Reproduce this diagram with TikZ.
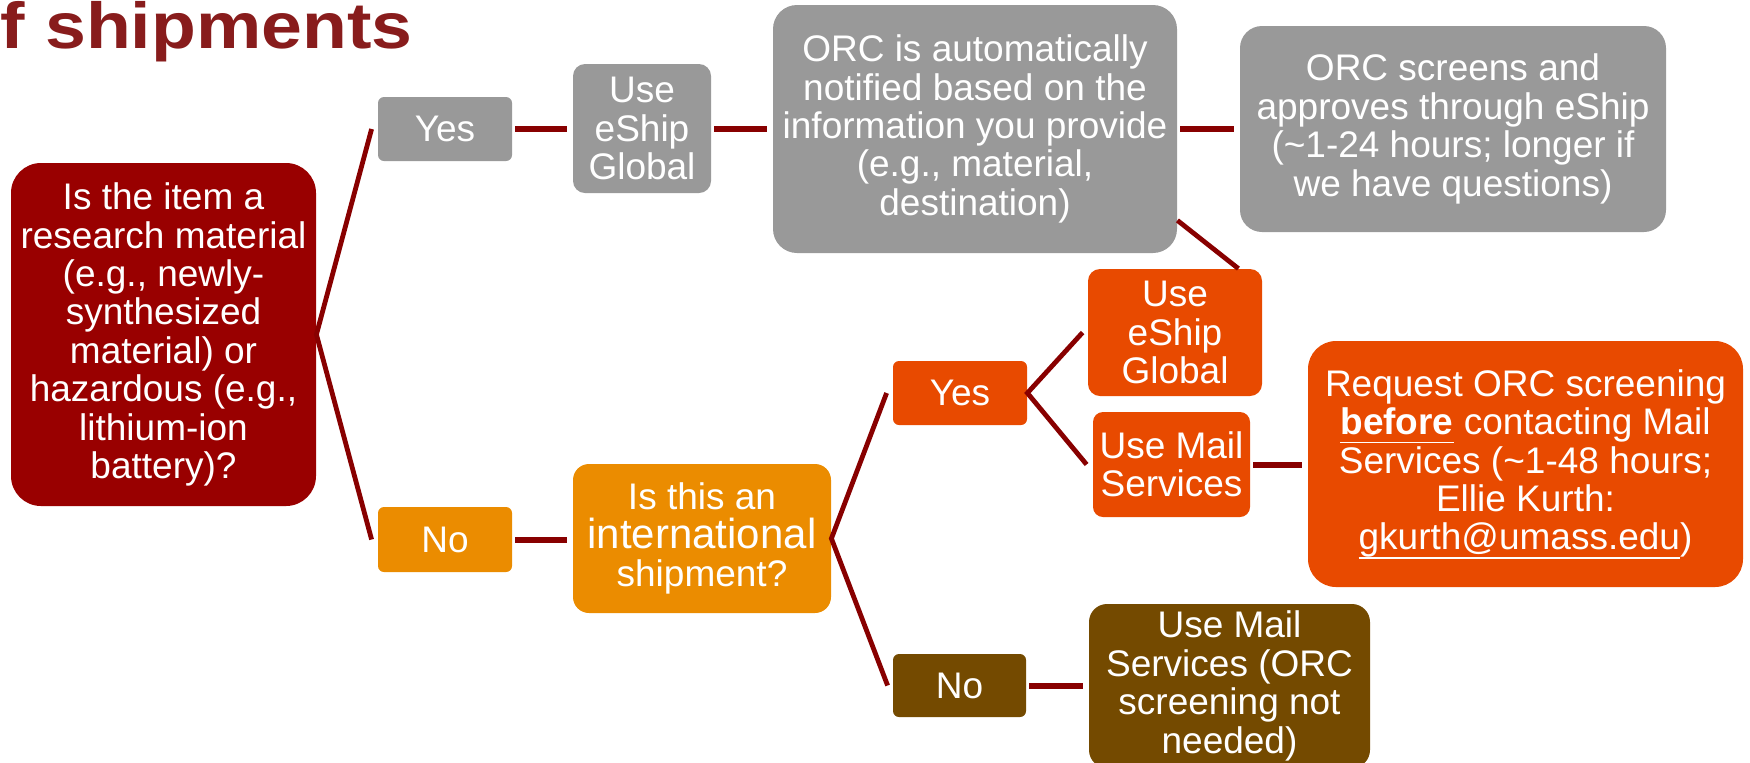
\documentclass[tikz,border=0pt]{standalone}
\usepackage{fontspec}
\setmainfont{Liberation Sans}
\usepackage{xcolor}
\usepackage{tikz}
\usetikzlibrary{calc}

\definecolor{umred}{HTML}{990000}
\definecolor{umgray}{HTML}{999999}
\definecolor{umamber}{HTML}{EB8C00}
\definecolor{umorange}{HTML}{E84A00}
\definecolor{umbrown}{HTML}{744A00}
\definecolor{umline}{HTML}{880000}
\definecolor{umtitle}{HTML}{881C1C}

\newsavebox{\ulsave}
\newcommand{\ulbox}[1]{\sbox{\ulsave}{#1}\rlap{\rule[-4.4pt]{\wd\ulsave}{0.9pt}}\usebox{\ulsave}}

\tikzset{
	box/.style={rounded corners=#1, text=white, align=center, inner sep=0pt, font=\fontsize{18.5pt}{19.2pt}\selectfont},
	link/.style={draw=umline, line width=3pt, shorten <=1.5pt, shorten >=3pt},
	fork/.style={draw=umline, line width=2.4pt, line join=miter},
}

\begin{document}
\begin{tikzpicture}[x=0.5pt, y=-0.5pt]
						\useasboundingbox (0, 0) rectangle (1750, 762);
						\clip (0, 0) rectangle (1750, 762);

						\node[anchor=base west, inner sep=0pt, text=umtitle, font={\bfseries\fontsize{32.5pt}{34pt}\selectfont}] (title) at (0, 48) {\scalebox{1.13}[1]{f shipments}};

						\node[box=15pt, fill=umred, minimum width=152.5pt, minimum height=171.5pt] (item) at (163.5, 334.5) {Is the item a\\research material\\(e.g., newly-\\synthesized\\material) or\\hazardous (e.g.,\\lithium-ion\\battery)?};

						\node[box=3pt, fill=umgray, minimum width=67pt, minimum height=32pt] (yesA) at (445, 129) {Yes};
						\node[box=6pt, fill=umgray, minimum width=69pt, minimum height=64.5pt] (useA) at (642, 128.5) {Use\\eShip\\Global};
						\node[box=12pt, fill=umgray, minimum width=202pt, minimum height=124pt] (orcA) at (975, 129) {ORC is automatically\\notified based on the\\information you provide\\(e.g., material,\\destination)};
						\node[box=11pt, fill=umgray, minimum width=213pt, minimum height=103pt] (orcB) at (1453, 129) {ORC screens and\\approves through eShip\\(\textasciitilde1-24 hours; longer if\\we have questions)};

						\node[box=3pt, fill=umamber, minimum width=67pt, minimum height=32.5pt] (noA) at (445, 539.5) {No};
						\node[box=8pt, fill=umamber, minimum width=129pt, minimum height=74.5pt] (intl) at (702, 538.5) {Is this an\\{\fontsize{21pt}{22pt}\selectfont international}\\shipment?};

						\node[box=3pt, fill=umorange, minimum width=67pt, minimum height=32pt] (yesB) at (960, 393) {Yes};
						\node[box=6pt, fill=umorange, minimum width=87pt, minimum height=63.5pt] (useB) at (1175, 332.5) {Use\\eShip\\Global};
						\node[box=5pt, fill=umorange, minimum width=78.5pt, minimum height=52.5pt] (mailB) at (1171.5, 464.5) {Use Mail\\Services};
						\node[box=14pt, fill=umorange, minimum width=217.5pt, minimum height=123pt] (request) at (1525.5, 464) {Request ORC screening\\\ulbox{\textbf{before}} contacting Mail\\Services (\textasciitilde1-48 hours;\\Ellie Kurth:\\\ulbox{gkurth@umass.edu})};

						\node[box=3pt, fill=umbrown, minimum width=66.5pt, minimum height=31.5pt] (noB) at (959.5, 685.5) {No};
						\node[box=9pt, fill=umbrown, minimum width=140.5pt, minimum height=82pt] (mailC) at (1229.5, 686) {Use Mail\\Services (ORC\\screening not\\needed)};

						\draw[link] (yesA.east) -- (yesA.east -| useA.west);
						\draw[link] (useA.east) -- (useA.east -| orcA.west);
						\draw[link] (orcA.east) -- (orcA.east -| orcB.west);
						\draw[link] (noA.east) -- (noA.east -| intl.west);
						\draw[link] (mailB.east) -- (mailB.east -| request.west);
						\draw[link] (noB.east) -- (noB.east -| mailC.west);

						\draw[fork] ($(yesA.west)+(-6,0)$) -- (item.east) -- ($(noA.west)+(-6,0)$);
						\draw[fork] ($(yesB.west)+(-6,0)$) -- (intl.east) -- ($(noB.west)+(-5,0)$);
						\draw[fork] ($(useB.west)+(-5,0)$) -- (yesB.east) -- ($(mailB.west)+(-6,0)$);
						\draw[fork] ($(orcA.south east)+(0,-33)$) -- ($(useB.north east)+(-24,0)$);
					\end{tikzpicture}
\end{document}
